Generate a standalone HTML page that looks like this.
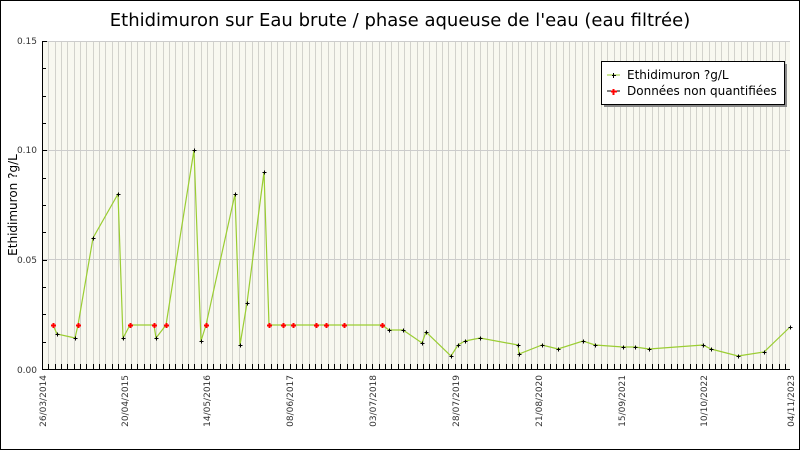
<!DOCTYPE html>
<html><head><meta charset="utf-8"><style>
html,body{margin:0;padding:0;background:#fff}
svg{display:block}
text{font-family:"DejaVu Sans","Liberation Sans",sans-serif}
</style></head><body>
<svg id="s" width="800" height="450" xmlns="http://www.w3.org/2000/svg">
<rect x="0.5" y="0.5" width="799" height="449" fill="#fff" stroke="#000"/>
<text x="400" y="26" font-size="18" text-anchor="middle" fill="#000">Ethidimuron sur Eau brute / phase aqueuse de l'eau (eau filtrée)</text>
<rect x="42" y="41" width="748" height="328" fill="#f8f8f0"/>
<g id="grid" stroke="#d2d2cc" stroke-width="1"></g>
<line x1="42" y1="150.5" x2="790" y2="150.5" stroke="#cccccc"/>
<line x1="42" y1="259.5" x2="790" y2="259.5" stroke="#cccccc"/>
<line x1="42" y1="41.5" x2="790" y2="41.5" stroke="#cccccc"/>
<g id="ticks" stroke="#000" stroke-width="1"></g>
<line x1="42.5" y1="41" x2="42.5" y2="370" stroke="#000"/>
<line x1="42" y1="369.5" x2="790" y2="369.5" stroke="#000"/>
<g font-size="9" fill="#333" text-anchor="end">
<text x="37" y="44">0.15</text><text x="37" y="153">0.10</text><text x="37" y="263">0.05</text><text x="37" y="373">0.00</text>
</g>
<text transform="translate(17,205) rotate(-90)" font-size="12" text-anchor="middle">Ethidimuron ?g/L</text>
<g id="xl" font-size="9" fill="#333" text-anchor="end"></g>
<polyline id="ln" fill="none" stroke="#9acd32" stroke-width="1.2"/>
<g id="pts"></g>
<rect x="604" y="64" width="183" height="43" fill="#888"/>
<rect x="601.5" y="61.5" width="183" height="43" fill="#fff" stroke="#000"/>
<line x1="607" y1="75" x2="620" y2="75" stroke="#9acd32"/>
<path d="M612 75.5h4M613.5 73v5" stroke="#000"/>
<line x1="607" y1="91" x2="620" y2="91" stroke="#000"/>
<path d="M611 91.5h6M613.5 89v6" stroke="red" stroke-width="2"/>
<text x="627" y="79" font-size="12">Ethidimuron ?g/L</text>
<text x="627" y="95" font-size="12">Données non quantifiées</text>
</svg>
<script>
var NS="http://www.w3.org/2000/svg";
function el(p,t,a){var e=document.createElementNS(NS,t);for(var k in a)e.setAttribute(k,a[k]);document.getElementById(p).appendChild(e);return e;}
for(var x=42;x<=791;x+=6.35){var xx=Math.round(x)+0.5;el("grid","line",{x1:xx,y1:41,x2:xx,y2:369});el("ticks","line",{x1:xx,y1:364,x2:xx,y2:369});}
for(var i=0;i<=12;i++){var y=Math.round(41+i*328/12)+0.5;el("ticks","line",{x1:42,y1:y,x2:(i%4==0?47:46),y2:y});}
var labs=[["26/03/2014",42],["20/04/2015",124],["14/05/2016",206],["08/06/2017",289],["03/07/2018",372],["28/07/2019",455],["21/08/2020",538],["15/09/2021",621],["10/10/2022",703],["04/11/2023",790]];
labs.forEach(function(l){var t=el("xl","text",{transform:"translate("+(l[1]+4)+",375) rotate(-90)"});t.textContent=l[0];});
var P=[[53,325,1],[57,334],[75,338],[78,325,1],[93,238],[118,194],[123,338],[130,325,1],[154,325,1],[156,338],[166,325,1],[194,150],[201,341],[206,325,1],[235,194],[240,345],[247,303],[264,172],[269,325,1],[283,325,1],[293,325,1],[316,325,1],[326,325,1],[344,325,1],[382,325,1],[389,330],[403,330],[422,343],[426,332],[451,356],[458,345],[465,341],[480,338],[518,345],[519,354],[542,345],[558,349],[583,341],[595,345],[623,347],[635,347],[649,349],[703,345],[711,349],[738,356],[764,352],[790,327]];
document.getElementById("ln").setAttribute("points",P.map(function(p){return p[0]+","+p[1]}).join(" "));
P.forEach(function(p){
 if(p[2]){el("pts","path",{d:"M"+(p[0]-2)+" "+(p[1]+0.5)+"h5M"+(p[0]+0.5)+" "+(p[1]-2)+"v5",stroke:"red","stroke-width":2});}
 else{el("pts","path",{d:"M"+(p[0]-1.5)+" "+(p[1]+0.5)+"h4M"+(p[0]+0.5)+" "+(p[1]-1.5)+"v4",stroke:"#000","stroke-width":1});}
});
</script>
</body></html>
